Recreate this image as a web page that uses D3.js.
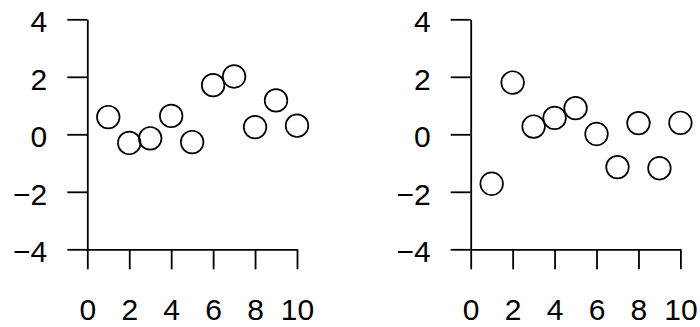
<!DOCTYPE html>
<html><head><meta charset="utf-8">
<script src="https://cdn.jsdelivr.net/npm/d3@7"></script>
<style>body{margin:0;background:#fff}svg{display:block}</style>
</head><body>
<script>
const xIndex = [1,2,3,4,5,6,7,8,9,10];
const seriesLeft = [0.60,-0.30,-0.14,0.64,-0.27,1.71,2.01,0.25,1.18,0.30];
const seriesRight = [-1.72,1.80,0.27,0.57,0.91,0.01,-1.14,0.39,-1.18,0.40];
const xTicks = [0,2,4,6,8,10];
const yTicks = [-4,-2,0,2,4];

const W = 700, H = 327;
const svg = d3.select("body").append("svg").attr("width", W).attr("height", H);

const panels = [
  {values: seriesLeft, x0: 87.3},
  {values: seriesRight, x0: 470.7}
];
const plotTop = 19.3, plotBottom = 249.3, plotW = 209.7;
const fontSize = 30;

panels.forEach(p => {
  const x = d3.scaleLinear().domain([0,10]).range([p.x0, p.x0 + plotW]);
  const y = d3.scaleLinear().domain([-4,4]).range([plotBottom, plotTop]);
  const g = svg.append("g");

  const ya = g.append("g").attr("transform", `translate(${p.x0},0)`)
    .call(d3.axisLeft(y).tickValues(yTicks).tickSize(20).tickSizeOuter(0).tickPadding(20).tickFormat(d3.format("d")));
  const xa = g.append("g").attr("transform", `translate(0,${plotBottom})`)
    .call(d3.axisBottom(x).tickValues(xTicks).tickSize(20).tickSizeOuter(0).tickPadding(29).tickFormat(d3.format("d")));
  [ya, xa].forEach(a => {
    a.selectAll("path,line").attr("stroke", "#000").attr("stroke-width", 1.8);
    a.selectAll("text").attr("font-family", "Liberation Sans, Arial, sans-serif")
      .attr("font-size", fontSize).attr("fill", "#000");
  });
  ya.selectAll("text").attr("dy", "0.42em");

  g.selectAll("circle").data(p.values).enter().append("circle")
    .attr("cx", (d,i) => x(xIndex[i]))
    .attr("cy", d => y(d))
    .attr("r", 11.3)
    .attr("fill", "none").attr("stroke", "#000").attr("stroke-width", 1.7);
});
</script>
</body></html>
